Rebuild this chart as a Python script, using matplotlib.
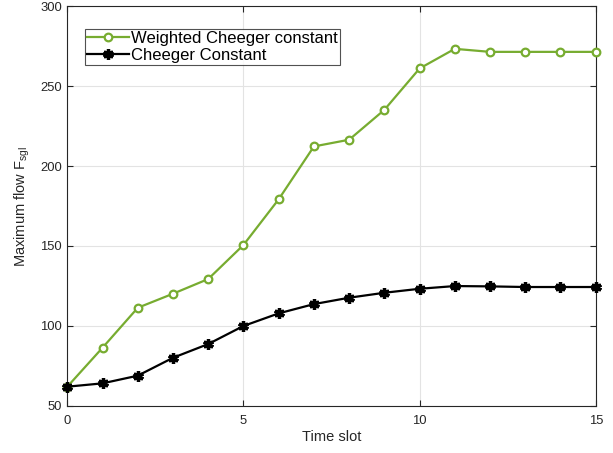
import matplotlib
matplotlib.use("Agg")
import matplotlib.pyplot as plt

plt.rcParams['font.family'] = ['Liberation Sans', 'DejaVu Sans']
plt.rcParams['mathtext.fontset'] = 'custom'
plt.rcParams['mathtext.rm'] = 'Liberation Sans'

time_slots = list(range(16))
weighted_cheeger = [61.9, 86.3, 111.3, 120.1, 129.3, 150.6, 179.2, 212.3,
                    216.5, 235.2, 261.1, 273.4, 271.5, 271.5, 271.5, 271.5]
cheeger = [61.9, 64.0, 68.8, 80.0, 88.6, 99.9, 107.8, 113.6,
           117.6, 120.7, 123.2, 124.9, 124.7, 124.3, 124.3, 124.3]
x_ticks = [0, 5, 10, 15]
y_ticks = [50, 100, 150, 200, 250, 300]

fig = plt.figure(figsize=(6.13, 4.53), dpi=100)
ax = fig.add_axes([0.1098, 0.1044, 0.862, 0.8816])

ax.plot(time_slots, weighted_cheeger, color='#77AC30', linewidth=1.6,
        marker='o', markersize=5.5, markerfacecolor='white',
        markeredgecolor='#77AC30', markeredgewidth=1.6,
        label='Weighted Cheeger constant', clip_on=False, zorder=3)
ax.plot(time_slots, cheeger, color='black', linewidth=1.6,
        marker=(6, 2, 0), markersize=7.5, markeredgewidth=2.4,
        markeredgecolor='black', label='Cheeger Constant', clip_on=False, zorder=4)

ax.set_xlim(0, 15)
ax.set_ylim(50, 300)
ax.set_xticks(x_ticks)
ax.set_yticks(y_ticks)
ax.tick_params(direction='in', length=4, width=0.8, labelsize=9.4,
               colors='#262626', top=True, right=True)
ax.tick_params(axis='x', pad=6.5)
ax.tick_params(axis='y', pad=4)
ax.grid(True, color='#e3e3e3', linewidth=0.8)
ax.set_axisbelow(True)
for s in ax.spines.values():
    s.set_color('#262626')
    s.set_linewidth(0.8)

ax.set_xlabel('Time slot', fontsize=10.5, color='#262626', labelpad=2.5)
ax.set_ylabel(r'Maximum flow F$_{\mathrm{sgl}}$', fontsize=10.5, color='#262626', labelpad=6)

leg = ax.legend(loc='upper left', bbox_to_anchor=(0.0335, 0.943), fontsize=12,
                frameon=True, fancybox=False, edgecolor='#262626',
                handlelength=2.5, handletextpad=0.15, borderpad=0.13,
                labelspacing=0.1, borderaxespad=0)
leg.get_frame().set_linewidth(0.8)

fig.savefig('out.png', dpi=100)
